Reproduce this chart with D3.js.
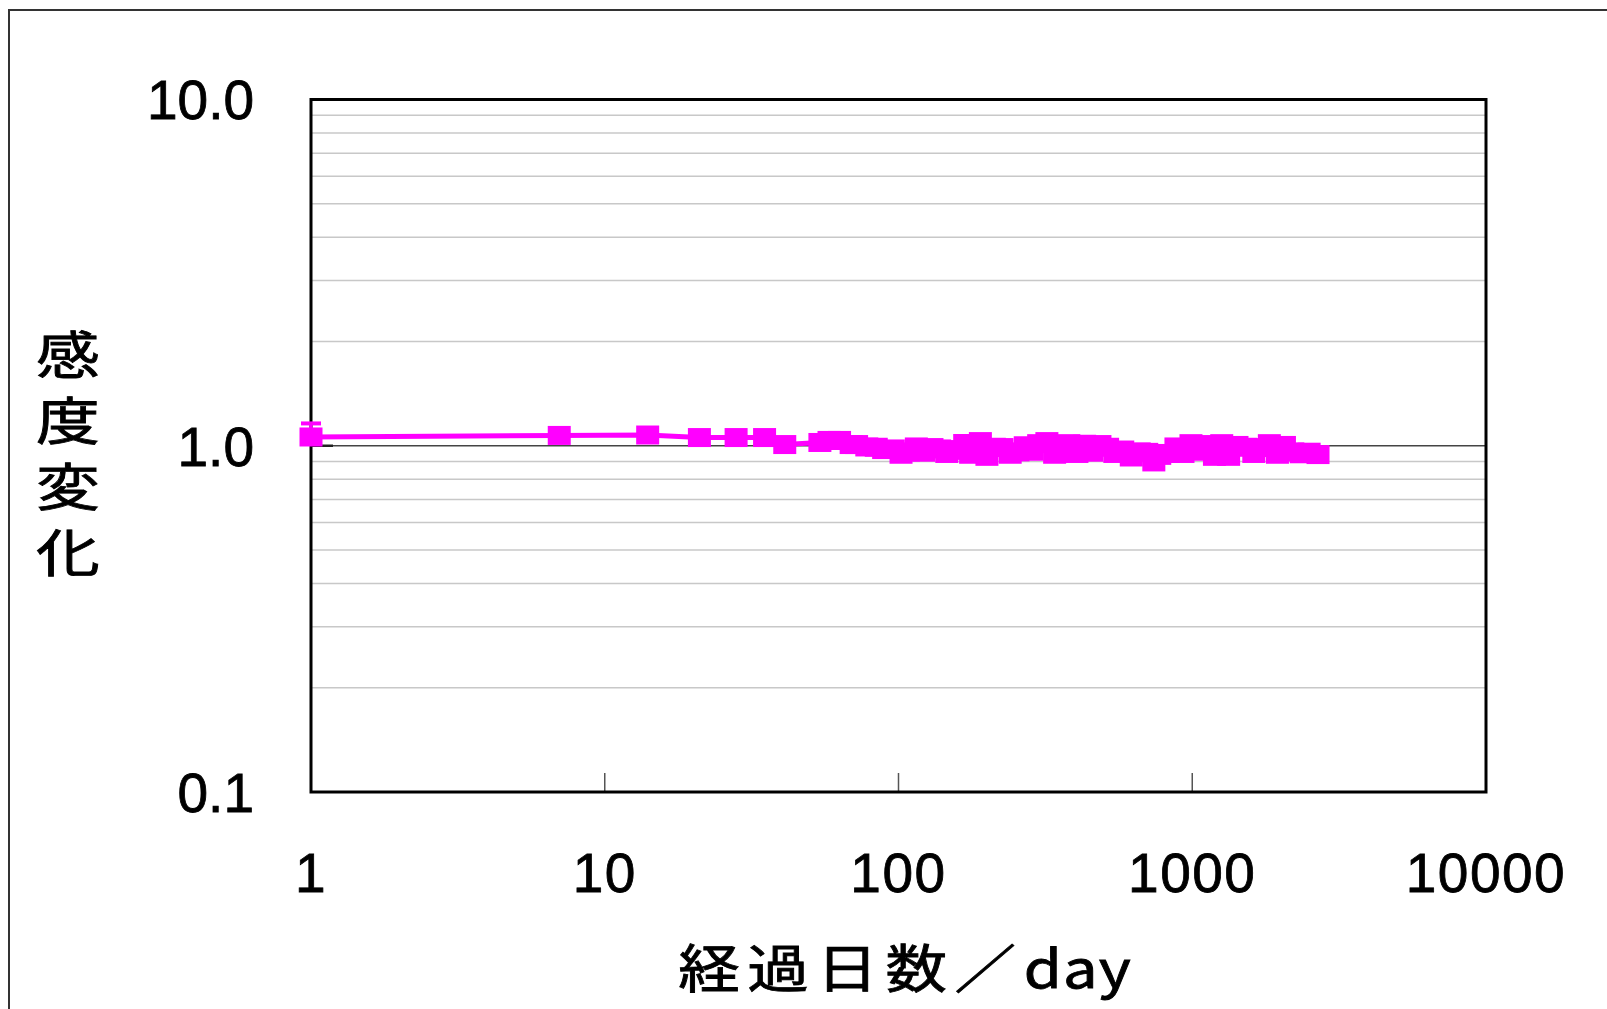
<!DOCTYPE html>
<html>
<head>
<meta charset="utf-8">
<script src="https://cdnjs.cloudflare.com/ajax/libs/d3/7.8.5/d3.min.js"></script>
<style>
  html, body { margin: 0; padding: 0; background: #fff; }
  svg { display: block; }
</style>
</head>
<body>
<svg id="chart"></svg>
<script>
// 経過日数 (day)
const days = [1, 7, 14, 21, 28, 35, 41, 54, 58, 63, 69, 72, 78, 84, 89, 96, 102, 108, 115, 122,
  130, 138, 146, 155, 160, 168, 176, 190, 200, 212, 225, 240, 255, 270, 285, 300, 320, 340, 358,
  380, 405, 430, 455, 485, 515, 545, 580, 620, 660, 700, 740, 775, 830, 880, 930, 990, 1050, 1110,
  1190, 1260, 1330, 1420, 1520, 1620, 1720, 1830, 1950, 2060, 2200, 2350, 2500, 2680];
// 感度変化
const sensitivity = [1.060, 1.071, 1.074, 1.056, 1.056, 1.056, 1.008, 1.022, 1.036, 1.036, 1.008,
  1.008, 0.992, 0.990, 0.975, 0.979, 0.945, 0.960, 0.992, 0.958, 0.988, 0.979, 0.950, 0.975,
  0.970, 1.015, 0.945, 1.028, 0.932, 0.990, 0.988, 0.945, 0.960, 1.000, 0.964, 1.014, 1.028,
  0.945, 1.000, 1.014, 0.950, 1.010, 0.958, 1.008, 0.990, 0.950, 0.972, 0.928, 0.960, 0.957,
  0.898, 0.938, 0.950, 0.992, 0.950, 1.014, 0.964, 1.008, 0.932, 1.014, 0.932, 1.002, 0.990,
  0.950, 0.988, 1.014, 0.945, 1.002, 0.960, 0.948, 0.958, 0.943];
// plus error bar (only the first point shows one)
const errPlus = [0.10];
const errDays = [1];

const xTicks = [1, 10, 100, 1000, 10000];
const xTickLabels = ["1", "10", "100", "1000", "10000"];
const yTicks = [0.1, 1, 10];
const yTickLabels = ["0.1", "1.0", "10.0"];
const yMinor = [0.2, 0.3, 0.4, 0.5, 0.6, 0.7, 0.8, 0.9, 2, 3, 4, 5, 6, 7, 8, 9];
const xTitleJa = "経過日数／";
const xTitleUnit = "day";
const yTitle = "感度変化";

const W = 1607, H = 1009;
const svg = d3.select("#chart").attr("width", W).attr("height", H);

// outer frame (runs off right / bottom)
svg.append("rect")
  .attr("x", 9).attr("y", 10)
  .attr("width", W + 20).attr("height", H + 20)
  .attr("fill", "none").attr("stroke", "#333").attr("stroke-width", 2);

const pL = 311, pR = 1486, pT = 99.5, pB = 792;
const x = d3.scaleLog().domain([1, 10000]).range([pL, pR]);
const y = d3.scaleLog().domain([0.1, 10]).range([pB, pT]);

// minor gridlines
svg.append("g").selectAll("line").data(yMinor).join("line")
  .attr("x1", pL).attr("x2", pR)
  .attr("y1", d => y(d)).attr("y2", d => y(d))
  .attr("stroke", "#c8c8c8").attr("stroke-width", 1.5);

// major gridline at 1.0
svg.append("line")
  .attr("x1", pL).attr("x2", pR)
  .attr("y1", y(1)).attr("y2", y(1))
  .attr("stroke", "#444").attr("stroke-width", 1.5);
svg.append("line")
  .attr("x1", pL).attr("x2", pL + 22)
  .attr("y1", y(1)).attr("y2", y(1))
  .attr("stroke", "#222").attr("stroke-width", 2.5);

// x ticks (inward)
svg.append("g").selectAll("line").data(xTicks.slice(1, -1)).join("line")
  .attr("x1", d => x(d)).attr("x2", d => x(d))
  .attr("y1", pB).attr("y2", pB - 19)
  .attr("stroke", "#555").attr("stroke-width", 1.5);

// plot border
svg.append("rect")
  .attr("x", pL).attr("y", pT)
  .attr("width", pR - pL).attr("height", pB - pT)
  .attr("fill", "none").attr("stroke", "#000").attr("stroke-width", 3);

// tick labels
svg.append("g").selectAll("text").data(yTicks).join("text")
  .attr("x", 254).attr("y", d => y(d))
  .attr("dy", "0.36em")
  .attr("text-anchor", "end")
  .attr("font-family", "'Liberation Sans', Arial, sans-serif")
  .attr("font-size", 55)
  .attr("fill", "#000").attr("stroke", "#000").attr("stroke-width", 0.8)
  .text((d, i) => yTickLabels[i]);

svg.append("g").selectAll("text").data(xTicks).join("text")
  .attr("x", d => x(d)).attr("y", 892)
  .attr("text-anchor", "middle")
  .attr("font-family", "'Liberation Sans', Arial, sans-serif")
  .attr("font-size", 55)
  .attr("letter-spacing", 1.5)
  .attr("fill", "#000").attr("stroke", "#000").attr("stroke-width", 0.8)
  .text((d, i) => xTickLabels[i]);

// axis titles
const xt = svg.append("g")
  .attr("transform", "translate(905,988) scale(1.08,0.92)")
  .append("text")
  .attr("text-anchor", "middle")
  .attr("font-family", "'Noto Sans CJK JP', sans-serif")
  .attr("font-size", 57)
  .attr("fill", "#000").attr("stroke", "#000").attr("stroke-width", 0.9);
xt.append("tspan").attr("letter-spacing", 7).text(xTitleJa);
xt.append("tspan").attr("letter-spacing", 1).text(xTitleUnit);

// vertical y title (upright characters, top to bottom)
svg.append("g")
  .attr("transform", "translate(68,454) scale(1.12,0.9)")
  .append("text")
  .attr("x", 0).attr("y", 8)
  .attr("text-anchor", "middle")
  .style("writing-mode", "vertical-rl")
  .style("text-orientation", "upright")
  .attr("letter-spacing", 66 / 0.9 - 57)
  .attr("font-family", "'Noto Sans CJK JP', sans-serif")
  .attr("font-size", 57)
  .attr("fill", "#000").attr("stroke", "#000").attr("stroke-width", 0.9)
  .text(yTitle);

// series
const pts = days.map((d, i) => ({ d, v: sensitivity[i] }));
const pink = "#ff00ff";

svg.append("path")
  .datum(pts)
  .attr("fill", "none")
  .attr("stroke", pink)
  .attr("stroke-width", 5)
  .attr("stroke-linejoin", "round")
  .attr("d", d3.line().x(p => x(p.d)).y(p => y(p.v)));

svg.append("g").selectAll("rect").data(pts).join("rect")
  .attr("x", p => x(p.d) - 11.5).attr("y", p => y(p.v) - 9.5)
  .attr("width", 23).attr("height", 19)
  .attr("fill", pink);

// error bars (plus)
const eb = errDays.map((d, i) => ({ d, v: sensitivity[days.indexOf(d)], e: errPlus[i] }));
const ebG = svg.append("g").attr("stroke", pink);
ebG.selectAll("line.v").data(eb).join("line").attr("class", "v")
  .attr("x1", p => x(p.d)).attr("x2", p => x(p.d))
  .attr("y1", p => y(p.v)).attr("y2", p => y(p.v + p.e))
  .attr("stroke-width", 3);
ebG.selectAll("line.c").data(eb).join("line").attr("class", "c")
  .attr("x1", p => x(p.d) - 10).attr("x2", p => x(p.d) + 10)
  .attr("y1", p => y(p.v + p.e)).attr("y2", p => y(p.v + p.e))
  .attr("stroke-width", 4);
</script>
</body>
</html>
